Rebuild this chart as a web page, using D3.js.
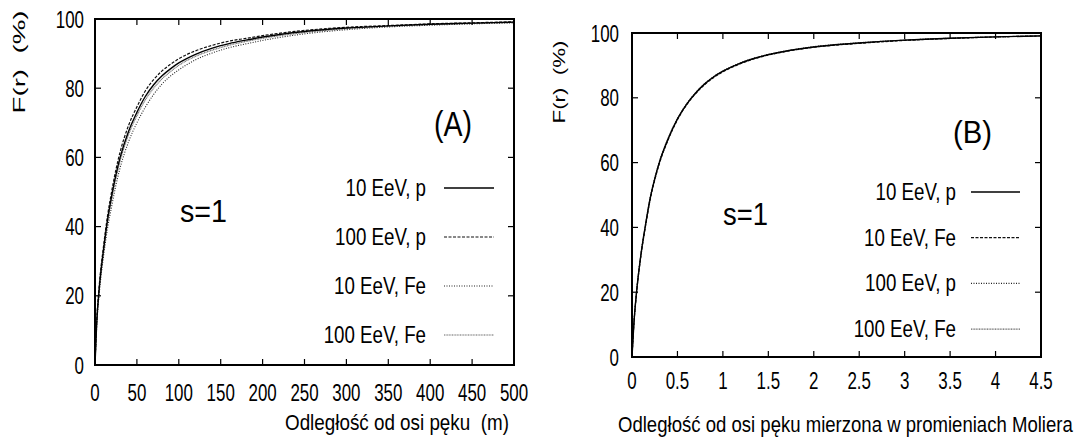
<!DOCTYPE html>
<html>
<head>
<meta charset="utf-8">
<script src="https://cdn.jsdelivr.net/npm/d3@7"></script>
<style>
  html, body { margin: 0; padding: 0; background: #fff; }
  svg { display: block; }
  text { font-family: "Liberation Sans", Arial, sans-serif; fill: #000; }
</style>
</head>
<body>
<svg id="chart" width="1079" height="443"></svg>
<script>
// ---- Panel A: distance from shower axis in metres ----
const rA = [0, 2, 5, 10, 15, 20, 25, 30, 40, 50, 60, 70, 80, 90, 100, 120, 140, 160, 180, 200, 250, 300, 350, 400, 450, 500];
const fA_p10   = [0, 12, 22, 33, 42, 49, 55, 60, 67.5, 73, 77.6, 81, 83.6, 85.6, 87.3, 89.8, 91.6, 92.9, 93.9, 94.8, 96.4, 97.4, 98.0, 98.5, 98.8, 99.1];
const fA_p100  = [0, 12.5, 22.8, 34, 43.2, 50.3, 56.5, 61.6, 69.2, 74.6, 79.2, 82.5, 85.0, 86.9, 88.5, 90.8, 92.4, 93.6, 94.4, 95.2, 96.7, 97.6, 98.1, 98.6, 98.9, 99.2];
const fA_fe10  = [0, 11, 20.5, 31, 39.5, 46, 52, 57, 64.5, 70, 74.5, 78.2, 81.2, 83.5, 85.3, 88.2, 90.2, 91.7, 92.8, 93.8, 95.7, 96.9, 97.7, 98.2, 98.6, 98.9];
const fA_fe100 = [0, 11.8, 21.6, 32.4, 41.2, 48, 54, 59, 66.5, 72, 76.6, 80, 82.7, 84.8, 86.6, 89.2, 91.0, 92.4, 93.5, 94.4, 96.1, 97.2, 97.9, 98.4, 98.7, 99.0];

// ---- Panel B: distance in Moliere radii ----
const rB = [0, 0.02, 0.05, 0.1, 0.15, 0.2, 0.25, 0.3, 0.4, 0.5, 0.6, 0.7, 0.8, 0.9, 1.0, 1.2, 1.4, 1.6, 1.8, 2.0, 2.5, 3.0, 3.5, 4.0, 4.5];
const fB_p10   = [0, 10, 20, 32, 41, 49, 55, 60, 67.5, 73.5, 78, 81.5, 84.3, 86.5, 88.2, 90.8, 92.6, 93.9, 94.9, 95.7, 96.9, 97.8, 98.4, 98.8, 99.1];
const fB_fe10  = [0, 9.8, 19.7, 31.6, 40.6, 48.6, 54.6, 59.6, 67.2, 73.2, 77.8, 81.3, 84.1, 86.3, 88.0, 90.6, 92.5, 93.8, 94.8, 95.6, 96.8, 97.7, 98.3, 98.8, 99.1];
const fB_p100  = [0, 10.1, 20.2, 32.2, 41.2, 49.2, 55.2, 60.2, 67.7, 73.6, 78.1, 81.6, 84.4, 86.6, 88.3, 90.9, 92.7, 94.0, 95.0, 95.8, 97.0, 97.8, 98.4, 98.8, 99.1];
const fB_fe100 = [0, 9.9, 19.9, 31.8, 40.8, 48.8, 54.8, 59.8, 67.4, 73.4, 77.9, 81.4, 84.2, 86.4, 88.1, 90.7, 92.6, 93.9, 94.9, 95.7, 96.9, 97.8, 98.4, 98.8, 99.1];

// ---- tick values ----
const yTicks = [0, 20, 40, 60, 80, 100];
const xTicksA = [0, 50, 100, 150, 200, 250, 300, 350, 400, 450, 500];
const xTicksB = [0, 0.5, 1, 1.5, 2, 2.5, 3, 3.5, 4, 4.5];

// ---- labels ----
const yLabel = "F(r)  (%)";
const xTitleA = "Odległość od osi pęku  (m)";
const xTitleB = "Odległość od osi pęku mierzona w promieniach Moliera";
const labelsA = ["10 EeV, p", "100 EeV, p", "10 EeV, Fe", "100 EeV, Fe"];
const labelsB = ["10 EeV, p", "10 EeV, Fe", "100 EeV, p", "100 EeV, Fe"];

// line styles
const styles = {
  solid:  { stroke: "#000", width: 1.4, dash: null },
  dashed: { stroke: "#111", width: 1.2, dash: "3,1.5" },
  dotted: { stroke: "#222", width: 1.1, dash: "1,1.5" },
  grey:   { stroke: "#666", width: 1.1, dash: "1,0.6" }
};

const svg = d3.select("#chart");

// horizontally condensed text, like the narrow Helvetica of the figure
function squeeze(sel, k) {
  sel.each(function () {
    const w = this.getComputedTextLength();
    this.setAttribute("textLength", w * k);
    this.setAttribute("lengthAdjust", "spacingAndGlyphs");
  });
}
function fitTo(sel, w) {
  sel.attr("textLength", w).attr("lengthAdjust", "spacingAndGlyphs");
}
// condense a text by scaling its own coordinate system to a target width
function scaleTo(sel, x, y, w) {
  const natural = sel.node().getComputedTextLength();
  sel.attr("x", 0).attr("y", 0)
    .attr("transform", `translate(${x},${y}) scale(${w / natural},1)`);
}

function panel(cfg) {
  const x = d3.scaleLinear().domain(cfg.xDomain).range([cfg.left, cfg.right]);
  const y = d3.scaleLinear().domain([0, 100]).range([cfg.bottom, cfg.top]);
  const g = svg.append("g");
  const tick = 6;

  // series
  const line = d3.line().x((d, i) => x(cfg.r[i])).y(d => y(d)).curve(d3.curveMonotoneX);
  const order = cfg.series.slice().reverse();
  order.forEach(s => {
    const st = styles[s.style];
    g.append("path")
      .attr("d", line(s.values))
      .attr("fill", "none")
      .attr("stroke", st.stroke)
      .attr("stroke-width", st.width)
      .attr("stroke-dasharray", st.dash);
  });

  // inward ticks on all four sides
  const axisG = g.append("g").attr("stroke", "#000").attr("stroke-width", 1.2);
  cfg.xTicks.forEach(v => {
    axisG.append("line").attr("x1", x(v)).attr("x2", x(v)).attr("y1", cfg.bottom).attr("y2", cfg.bottom - tick);
    axisG.append("line").attr("x1", x(v)).attr("x2", x(v)).attr("y1", cfg.top).attr("y2", cfg.top + tick);
  });
  yTicks.forEach(v => {
    axisG.append("line").attr("x1", cfg.left).attr("x2", cfg.left + tick).attr("y1", y(v)).attr("y2", y(v));
    axisG.append("line").attr("x1", cfg.right).attr("x2", cfg.right - tick).attr("y1", y(v)).attr("y2", y(v));
  });

  // frame
  g.append("rect")
    .attr("x", cfg.left).attr("y", cfg.top)
    .attr("width", cfg.right - cfg.left).attr("height", cfg.bottom - cfg.top)
    .attr("fill", "none").attr("stroke", "#000").attr("stroke-width", 2);

  // tick labels
  const xl = g.selectAll(".xl").data(cfg.xTicks).enter().append("text")
    .attr("x", d => x(d)).attr("y", cfg.xLabelY)
    .attr("text-anchor", "middle").attr("font-size", 24.5)
    .text(d => d);
  squeeze(xl, 0.69);
  const yl = g.selectAll(".yl").data(yTicks).enter().append("text")
    .attr("x", cfg.yLabelX).attr("y", d => y(d) + 8.5)
    .attr("text-anchor", "end").attr("font-size", 24.5)
    .text(d => d);
  squeeze(yl, 0.69);

  // axis titles
  const yt = g.append("text")
    .attr("transform", `translate(${cfg.yTitle[0]},${cfg.yTitle[1]}) rotate(-90)`)
    .attr("text-anchor", "middle").attr("font-size", 16)
    .attr("font-family", "DejaVu Sans, sans-serif")
    .style("white-space", "pre")
    .text(yLabel);
  fitTo(yt, cfg.yTitle[2]);
  const xt = g.append("text")
    .attr("font-size", 22)
    .style("white-space", "pre")
    .text(cfg.xTitleText);
  scaleTo(xt, cfg.xTitle[0], cfg.xTitle[1], cfg.xTitle[2]);

  // panel tag and s=1
  const tag = g.append("text").attr("x", cfg.tag[0]).attr("y", cfg.tag[1])
    .attr("font-size", cfg.tag[3]).text(cfg.tagText);
  fitTo(tag, cfg.tag[2]);
  const s1 = g.append("text").attr("x", cfg.s1[0]).attr("y", cfg.s1[1])
    .attr("font-size", 32).text("s=1");
  fitTo(s1, cfg.s1[2]);

  // legend
  cfg.series.forEach((s, i) => {
    const cy = cfg.legend.y0 + i * cfg.legend.dy;
    const t = g.append("text").attr("x", cfg.legend.textX).attr("y", cy + 8)
      .attr("text-anchor", "end").attr("font-size", 24).text(s.label);
    squeeze(t, 0.78);
    const st = styles[s.style];
    g.append("line")
      .attr("x1", cfg.legend.x1).attr("x2", cfg.legend.x2)
      .attr("y1", cy).attr("y2", cy)
      .attr("stroke", st.stroke).attr("stroke-width", st.width)
      .attr("stroke-dasharray", st.dash);
  });
}

panel({
  left: 95, right: 514, top: 19, bottom: 365,
  xDomain: [0, 500], xTicks: xTicksA, r: rA,
  xLabelY: 401, yLabelX: 84,
  yTitle: [25, 62, 103],
  xTitle: [285, 430, 224], xTitleText: xTitleA,
  tag: [434, 136, 38, 35], tagText: "(A)",
  s1: [180, 222, 47],
  legend: { y0: 188, dy: 49, textX: 426, x1: 444, x2: 494 },
  series: [
    { label: labelsA[0], values: fA_p10, style: "solid" },
    { label: labelsA[1], values: fA_p100, style: "dashed" },
    { label: labelsA[2], values: fA_fe10, style: "dotted" },
    { label: labelsA[3], values: fA_fe100, style: "grey" }
  ]
});

panel({
  left: 632, right: 1041, top: 33, bottom: 357,
  xDomain: [0, 4.5], xTicks: xTicksB, r: rB,
  xLabelY: 389, yLabelX: 619,
  yTitle: [565, 82, 83],
  xTitle: [618, 432, 455], xTitleText: xTitleB,
  tag: [953, 143, 39, 32], tagText: "(B)",
  s1: [723, 225, 45],
  legend: { y0: 192, dy: 45.7, textX: 956, x1: 971, x2: 1020 },
  series: [
    { label: labelsB[0], values: fB_p10, style: "solid" },
    { label: labelsB[1], values: fB_fe10, style: "dashed" },
    { label: labelsB[2], values: fB_p100, style: "dotted" },
    { label: labelsB[3], values: fB_fe100, style: "grey" }
  ]
});
</script>
</body>
</html>
